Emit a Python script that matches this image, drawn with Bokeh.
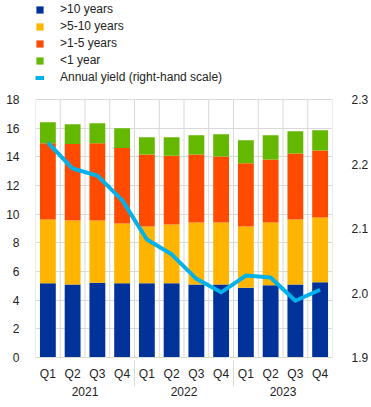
from bokeh.plotting import figure
from bokeh.models import (FactorRange, Range1d, LinearAxis, Legend, LegendItem,
                          FixedTicker, NumeralTickFormatter)
from bokeh.embed import file_html
from bokeh.resources import INLINE

years = ["2021", "2022", "2023"]
quarters = ["Q1", "Q2", "Q3", "Q4"]
gt10 = [5.18, 5.10, 5.22, 5.18, 5.18, 5.18, 5.10, 5.10, 4.87, 5.04, 5.10, 5.25]
gt5_10 = [4.45, 4.46, 4.34, 4.17, 3.96, 4.10, 4.32, 4.32, 4.27, 4.38, 4.53, 4.52]
gt1_5 = [5.31, 5.34, 5.38, 5.27, 5.03, 4.80, 4.75, 4.61, 4.41, 4.40, 4.61, 4.68]
lt1 = [1.47, 1.37, 1.40, 1.37, 1.19, 1.28, 1.33, 1.54, 1.60, 1.68, 1.54, 1.40]
annual_yield = [2.233, 2.193, 2.182, 2.144, 2.083, 2.060, 2.022, 2.001, 2.027, 2.024, 1.988, 2.005]
left_ticks = [0, 2, 4, 6, 8, 10, 12, 14, 16, 18]
right_ticks = [1.9, 2.0, 2.1, 2.2, 2.3]

factors = [(y, q) for y in years for q in quarters]
series = ["gt10", "gt5_10", "gt1_5", "lt1"]
labels = [">10 years", ">5-10 years", ">1-5 years", "<1 year"]
colors = ["#003299", "#FFB400", "#FF4B00", "#65B800"]
data = dict(x=factors, gt10=gt10, gt5_10=gt5_10, gt1_5=gt1_5, lt1=lt1, yld=annual_yield)

FONT = "Liberation Sans"
GRID = "#D9D9D9"
TXT = "#222222"

# the frame also holds the legend area above the value 18 (legend sits at the top)
LMAX = left_ticks[-1]
extra = 99 / (258 / LMAX)            # legend band expressed in data units
y_top = LMAX + extra
r_lo, r_hi = right_ticks[0], right_ticks[-1]
r_top = r_lo + (r_hi - r_lo) * y_top / LMAX

p = figure(width=371, height=407, output_backend="svg", toolbar_location=None,
           x_range=FactorRange(*factors, group_padding=0, factor_padding=0, range_padding=0),
           y_range=Range1d(0, y_top),
           min_border_left=35, min_border_right=39, min_border_top=0, min_border_bottom=50)
p.outline_line_color = None
p.extra_y_ranges = {"yield": Range1d(r_lo, r_top)}

# vertical grid lines between categories, only up to the top tick
edges = [(y, q, -0.5) for (y, q) in factors] + [factors[-1] + (0.5,)]
p.segment(x0=edges, y0=0, x1=edges, y1=LMAX, line_color=GRID, line_width=1)

bars = p.vbar_stack(series, x="x", width=0.64, color=colors, line_color=None, source=data)
ln = p.line(x="x", y="yld", y_range_name="yield", line_width=4, color="#00B1EA",
            line_join="round", source=data)

# axes
p.yaxis.ticker = FixedTicker(ticks=left_ticks)
right = LinearAxis(y_range_name="yield", ticker=FixedTicker(ticks=right_ticks),
                   formatter=NumeralTickFormatter(format="0.0"))
p.add_layout(right, "right")
for ax in [p.yaxis[0], right]:
    ax.axis_line_color = None
    ax.major_tick_line_color = None
    ax.minor_tick_line_color = None
    ax.major_label_text_font = FONT
    ax.major_label_text_font_size = "12px"
    ax.major_label_text_color = TXT
p.yaxis[0].major_label_standoff = 10
right.major_label_standoff = 13

xa = p.xaxis[0]
xa.axis_line_color = GRID
xa.major_tick_line_color = None
xa.minor_tick_line_color = None
xa.major_label_text_font = FONT
xa.major_label_text_font_size = "12px"
xa.major_label_text_color = TXT
xa.group_text_font = FONT
xa.group_text_font_size = "12px"
xa.group_text_color = TXT
xa.group_text_font_style = "normal"
xa.separator_line_color = GRID
xa.separator_line_width = 1
xa.major_label_standoff = 3

p.ygrid.grid_line_color = GRID
p.ygrid.ticker = FixedTicker(ticks=left_ticks)
p.xgrid.grid_line_color = None

items = [LegendItem(label=l, renderers=[r]) for l, r in zip(labels, bars)]
items.append(LegendItem(label="Annual yield (right-hand scale)", renderers=[ln]))
legend = Legend(items=items, location=(0, 273), orientation="vertical",
                glyph_width=9, glyph_height=9, label_height=9, spacing=3,
                label_standoff=16, padding=1, margin=0,
                border_line_color=None, background_fill_alpha=0,
                label_text_font=FONT, label_text_font_size="12px", label_text_color=TXT)
p.add_layout(legend, "center")

open("out.html", "w").write(file_html(p, INLINE))
